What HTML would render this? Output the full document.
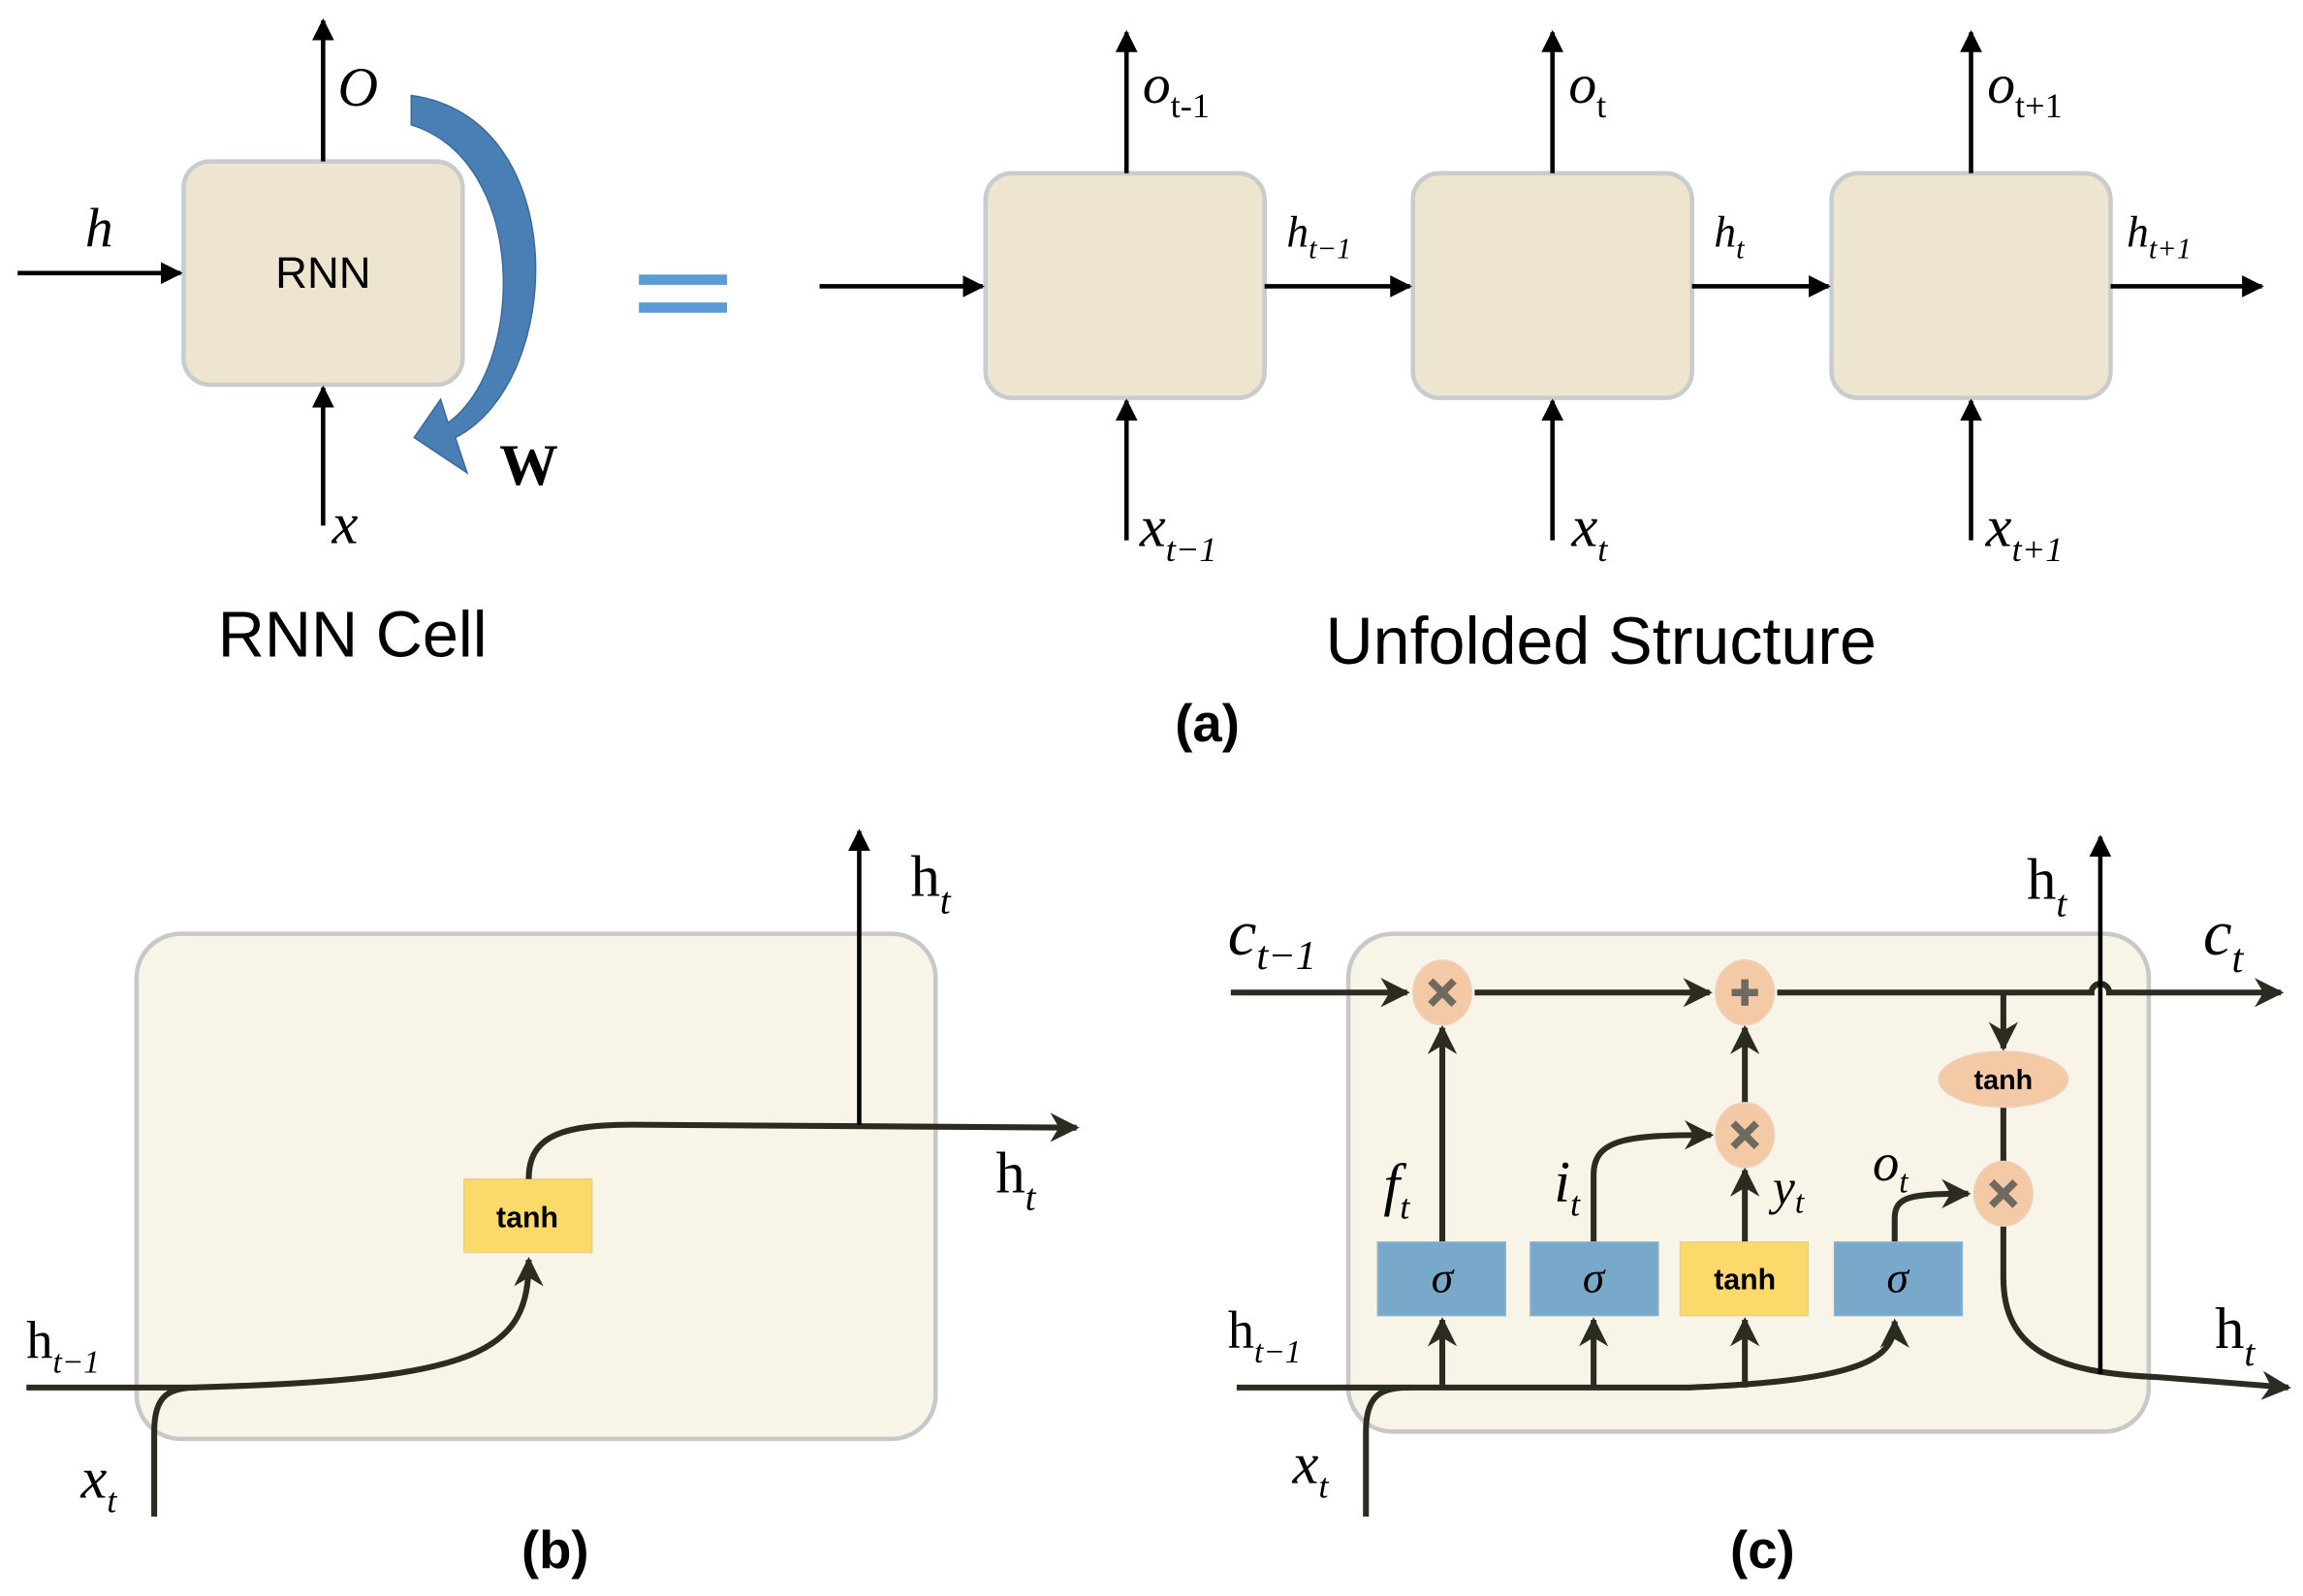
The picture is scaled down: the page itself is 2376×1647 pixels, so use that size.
<!DOCTYPE html>
<html><head><meta charset="utf-8"><style>html,body{margin:0;padding:0;background:#fff}svg{display:block}</style></head>
<body>
<svg width="2376" height="1647" viewBox="0 0 1568 1087" preserveAspectRatio="none" xmlns="http://www.w3.org/2000/svg">
<defs>
<marker id="a" viewBox="0 0 10 10" refX="9" refY="5" markerWidth="5" markerHeight="5" orient="auto-start-reverse" markerUnits="strokeWidth"><path d="M0,0 L10,5 L0,10 z" fill="#000"/></marker>
<marker id="d" viewBox="0 0 10 10" refX="9" refY="5" markerWidth="5" markerHeight="5" orient="auto" markerUnits="strokeWidth"><path d="M0,0 L10,5 L0,10 L3,5 z" fill="#2b2b22"/></marker>
</defs>
<style>
text{font-family:"Liberation Serif",serif}
.s{font-family:"Liberation Sans",sans-serif}
.k{stroke:#000;stroke-width:3;fill:none}
.d{stroke:#2b2b22;stroke-width:4;fill:none}
</style>
<!-- Panel a -->
<rect x="125" y="110" width="190" height="152" rx="18" fill="#ede5cf" stroke="#c8cccc" stroke-width="3"/>
<text x="220" y="196" class="s" font-size="30" text-anchor="middle">RNN</text>
<line x1="220" y1="110" x2="220" y2="14" class="k" marker-end="url(#a)"/>
<text x="230" y="72" font-size="38" font-style="italic">O</text>
<line x1="12" y1="186" x2="123" y2="186" class="k" marker-end="url(#a)"/>
<text x="58" y="168" font-size="38" font-style="italic">h</text>
<line x1="220" y1="358" x2="220" y2="264" class="k" marker-end="url(#a)"/>
<text x="226" y="370" font-size="40" font-style="italic">x</text>
<path d="M280,65 C390,80 385,260 310,298 L318,322 L282,298 L300,272 L305,288 C358,250 360,110 280,85 Z" fill="#4a7fb5" stroke="#3a6a9c" stroke-width="1"/>
<text x="340" y="330" font-size="40" font-weight="bold">W</text>
<rect x="435" y="187" width="60" height="7" fill="#5b9bd5"/>
<rect x="435" y="206" width="60" height="7" fill="#5b9bd5"/>
<text x="240" y="447" class="s" font-size="44" text-anchor="middle">RNN Cell</text>

<g fill="#ede5cf" stroke="#c8cccc" stroke-width="3">
<rect x="671" y="118" width="190" height="153" rx="18"/>
<rect x="962" y="118" width="190" height="153" rx="18"/>
<rect x="1247" y="118" width="190" height="153" rx="18"/>
</g>
<g class="k">
<line x1="767" y1="118" x2="767" y2="22" marker-end="url(#a)"/>
<line x1="1057" y1="118" x2="1057" y2="22" marker-end="url(#a)"/>
<line x1="1342" y1="118" x2="1342" y2="22" marker-end="url(#a)"/>
<line x1="767" y1="368" x2="767" y2="273" marker-end="url(#a)"/>
<line x1="1057" y1="368" x2="1057" y2="273" marker-end="url(#a)"/>
<line x1="1342" y1="368" x2="1342" y2="273" marker-end="url(#a)"/>
<line x1="558" y1="195" x2="669" y2="195" marker-end="url(#a)"/>
<line x1="861" y1="195" x2="960" y2="195" marker-end="url(#a)"/>
<line x1="1152" y1="195" x2="1245" y2="195" marker-end="url(#a)"/>
<line x1="1437" y1="195" x2="1540" y2="195" marker-end="url(#a)"/>
</g>
<text x="778" y="70" font-size="38" font-style="italic">o<tspan font-style="normal" font-size="24" dy="10">t-1</tspan></text>
<text x="1068" y="70" font-size="38" font-style="italic">o<tspan font-style="normal" font-size="24" dy="10">t</tspan></text>
<text x="1353" y="70" font-size="38" font-style="italic">o<tspan font-style="normal" font-size="24" dy="10">t+1</tspan></text>
<text x="876" y="168" font-size="30" font-style="italic">h<tspan font-size="20" dy="8">t−1</tspan></text>
<text x="1167" y="168" font-size="30" font-style="italic">h<tspan font-size="20" dy="8">t</tspan></text>
<text x="1448" y="168" font-size="30" font-style="italic">h<tspan font-size="20" dy="8">t+1</tspan></text>
<text x="776" y="372" font-size="40" font-style="italic">x<tspan font-size="24" dy="10">t−1</tspan></text>
<text x="1070" y="372" font-size="40" font-style="italic">x<tspan font-size="24" dy="10">t</tspan></text>
<text x="1352" y="372" font-size="40" font-style="italic">x<tspan font-size="24" dy="10">t+1</tspan></text>
<text x="1090" y="452" class="s" font-size="45" text-anchor="middle">Unfolded Structure</text>
<text x="822" y="505" class="s" font-size="36" font-weight="bold" text-anchor="middle">(a)</text>

<!-- Panel b -->
<rect x="93" y="636" width="544" height="344" rx="30" fill="#f8f4e8" stroke="#c8c8c8" stroke-width="3"/>
<rect x="316" y="803" width="87" height="50" fill="#fbd96a" stroke="#e8d08a"/>
<text x="359" y="836" class="s" font-size="20" font-weight="bold" text-anchor="middle">tanh</text>
<path d="M18,945 L130,945 C330,940 360,920 360,858" class="d" marker-end="url(#d)"/>
<path d="M105,1033 L105,975 C105,950 115,945 135,945" class="d"/>
<path d="M360,803 C360,775 380,766 430,766 L733,768" class="d" marker-end="url(#d)"/>
<line x1="585" y1="766" x2="585" y2="566" class="k" stroke-width="4" marker-end="url(#a)"/>
<text x="620" y="610" font-size="40">h<tspan font-style="italic" font-size="26" dy="12">t</tspan></text>
<text x="678" y="812" font-size="40">h<tspan font-style="italic" font-size="26" dy="12">t</tspan></text>
<text x="18" y="925" font-size="36">h<tspan font-style="italic" font-size="22" dy="10">t−1</tspan></text>
<text x="55" y="1020" font-size="40" font-style="italic">x<tspan font-size="24" dy="10">t</tspan></text>
<text x="378" y="1068" class="s" font-size="36" font-weight="bold" text-anchor="middle">(b)</text>

<!-- Panel c -->
<rect x="918" y="636" width="545" height="339" rx="30" fill="#f8f4e8" stroke="#c8c8c8" stroke-width="3"/>
<path d="M838,676 L958,676" class="d" stroke-width="5" marker-end="url(#d)"/>
<path d="M1004,676 L1164,676" class="d" marker-end="url(#d)"/>
<path d="M1210,676 L1424,676 A6,6 0 0 1 1436,676 L1553,676" class="d" marker-end="url(#d)"/>
<line x1="1364" y1="676" x2="1364" y2="714" class="d" marker-end="url(#d)"/>
<line x1="1364" y1="753" x2="1364" y2="793" class="d"/>
<line x1="982" y1="846" x2="982" y2="700" class="d" marker-end="url(#d)"/>
<line x1="1188" y1="846" x2="1188" y2="797" class="d" marker-end="url(#d)"/>
<line x1="1188" y1="753" x2="1188" y2="700" class="d" marker-end="url(#d)"/>
<path d="M1085,846 L1085,800 C1085,775 1110,773 1165,773" class="d" marker-end="url(#d)"/>
<path d="M1290,846 L1290,830 C1290,815 1300,813 1340,813" class="d" marker-end="url(#d)"/>
<path d="M1364,833 L1364,870 C1364,920 1400,935 1470,938 L1558,945" class="d" marker-end="url(#d)"/>
<line x1="1430" y1="936" x2="1430" y2="570" class="k" stroke-width="4" marker-end="url(#a)"/>
<path d="M842,945 L1150,945 C1270,940 1290,925 1290,900" class="d" marker-end="url(#d)"/>
<path d="M930,1033 L930,975 C930,950 940,945 960,945" class="d"/>
<line x1="982" y1="945" x2="982" y2="899" class="d" marker-end="url(#d)"/>
<line x1="1085" y1="945" x2="1085" y2="899" class="d" marker-end="url(#d)"/>
<line x1="1188" y1="945" x2="1188" y2="899" class="d" marker-end="url(#d)"/>
<g fill="#f4c9a6" stroke="#ecd2bc">
<ellipse cx="982" cy="676" rx="20" ry="22"/>
<ellipse cx="1188" cy="676" rx="20" ry="22"/>
<ellipse cx="1188" cy="773" rx="20" ry="22"/>
<ellipse cx="1364" cy="813" rx="20" ry="22"/>
<ellipse cx="1364" cy="735" rx="44" ry="19"/>
</g>
<g stroke="#6e6a60" stroke-width="5">
<path d="M974,668 L990,684 M990,668 L974,684"/>
<path d="M1180,765 L1196,781 M1196,765 L1180,781"/>
<path d="M1356,805 L1372,821 M1372,805 L1356,821"/>
<path d="M1188,667 L1188,685 M1179,676 L1197,676"/>
</g>
<text x="1364" y="742" class="s" font-size="19" font-weight="bold" text-anchor="middle">tanh</text>
<g fill="#78a8ca" stroke="#8bb3cf">
<rect x="938" y="846" width="87" height="50"/>
<rect x="1042" y="846" width="87" height="50"/>
<rect x="1249" y="846" width="87" height="50"/>
</g>
<rect x="1144" y="846" width="87" height="50" fill="#fbd96a" stroke="#e8d08a"/>
<g font-size="30" font-style="italic" text-anchor="middle">
<text x="982" y="880">σ</text><text x="1085" y="880">σ</text><text x="1292" y="880">σ</text>
</g>
<text x="1188" y="878" class="s" font-size="20" font-weight="bold" text-anchor="middle">tanh</text>
<text x="836" y="650" font-size="44" font-style="italic">c<tspan font-size="28" dy="10">t−1</tspan></text>
<text x="1500" y="650" font-size="44" font-style="italic">c<tspan font-size="28" dy="12">t</tspan></text>
<text x="1380" y="612" font-size="40">h<tspan font-style="italic" font-size="26" dy="12">t</tspan></text>
<text x="942" y="820" font-size="40" font-style="italic">f<tspan font-size="24" dy="10">t</tspan></text>
<text x="1058" y="818" font-size="40" font-style="italic">i<tspan font-size="24" dy="10">t</tspan></text>
<text x="1207" y="820" font-size="34" font-style="italic">y<tspan font-size="22" dy="6">t</tspan></text>
<text x="1275" y="804" font-size="36" font-style="italic">o<tspan font-size="22" dy="8">t</tspan></text>
<text x="836" y="918" font-size="36">h<tspan font-style="italic" font-size="22" dy="10">t−1</tspan></text>
<text x="1508" y="918" font-size="40">h<tspan font-style="italic" font-size="26" dy="12">t</tspan></text>
<text x="880" y="1010" font-size="40" font-style="italic">x<tspan font-size="24" dy="10">t</tspan></text>
<text x="1200" y="1068" class="s" font-size="36" font-weight="bold" text-anchor="middle">(c)</text>
</svg>
</body></html>
